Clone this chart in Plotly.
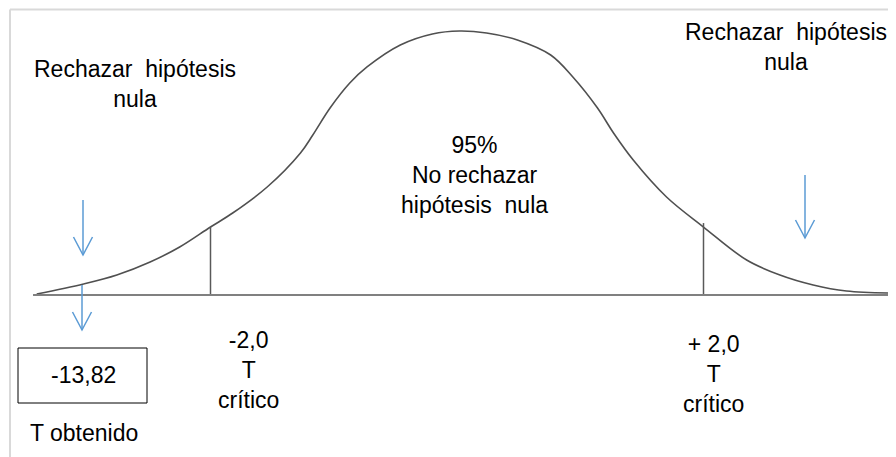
import plotly.graph_objects as go

# ---- data (t units, relative density) ----
curve_t = [-3.41, -3.03, -2.76, -2.49, -2.25, -2.00, -1.82, -1.54, -1.27, -1.17, -1.03, -0.87, -0.73, -0.46, -0.20,
           0.02, 0.24, 0.49, 0.76, 0.94, 1.14, 1.27, 1.43, 1.70, 2.00, 2.35, 2.62, 2.89, 3.16, 3.54]
curve_d = [0.0015, 0.0167, 0.0303, 0.0500, 0.0727, 0.1030, 0.1242, 0.1636, 0.2152, 0.2424, 0.2833, 0.3212, 0.3455, 0.3788, 0.3955,
           0.4000, 0.3970, 0.3864, 0.3636, 0.3303, 0.2833, 0.2455, 0.2045, 0.1485, 0.1030, 0.0530, 0.0303, 0.0152, 0.0061, 0.0030]

crit_t = [-2.0, 2.0]
crit_top = [0.103, 0.109]
crit_labels = ["-2,0<br>T<br>crítico", "+ 2,0<br>T<br>crítico"]

t_obtenido = "-13,82"

W, H = 896, 457
OFF = 8                      # page body margin of the browser
FW, FH = W - OFF, H - OFF    # figure size so the figure ends at the window edge
FONT = "Liberation Sans, Arial, sans-serif"

fig = go.Figure()

# normal curve
fig.add_trace(go.Scatter(x=curve_t, y=curve_d, mode="lines",
                         line=dict(color="#505050", width=1.6, shape="spline", smoothing=1.0),
                         hoverinfo="skip", showlegend=False))

# critical value lines
cx, cy = [], []
for t, top in zip(crit_t, crit_top):
    cx += [t, t, None]
    cy += [0, top, None]
fig.add_trace(go.Scatter(x=cx, y=cy, mode="lines",
                         line=dict(color="#595959", width=1.5),
                         hoverinfo="skip", showlegend=False))

def px(x):
    return (x - OFF) / FW

def py(y):
    return 1 - (y - OFF) / FH

shapes = []
# baseline
shapes.append(dict(type="line", xref="x", yref="y", x0=-3.44, x1=3.54, y0=0, y1=0,
                   line=dict(color="#808080", width=2)))
# frame lines (top and left)
shapes.append(dict(type="line", xref="paper", yref="paper", x0=px(10), x1=1, y0=py(9.5), y1=py(9.5),
                   line=dict(color="#d9d9d9", width=2)))
shapes.append(dict(type="line", xref="paper", yref="paper", x0=px(10), x1=px(10), y0=py(9.5), y1=0,
                   line=dict(color="#d9d9d9", width=2)))
# box for obtained T
shapes.append(dict(type="rect", xref="paper", yref="paper", x0=px(18), x1=px(147), y0=py(348), y1=py(403),
                   line=dict(color="#000000", width=1), fillcolor="rgba(0,0,0,0)"))

def arrow(x, y0, y1, hw=9.5, hh=18):
    col = "#5b9bd5"
    shapes.append(dict(type="line", xref="paper", yref="paper", x0=px(x), x1=px(x), y0=py(y0), y1=py(y1),
                       line=dict(color=col, width=1.5)))
    path = f"M {px(x-hw)},{py(y1-hh)} L {px(x)},{py(y1)} L {px(x+hw)},{py(y1-hh)}"
    shapes.append(dict(type="path", xref="paper", yref="paper", path=path,
                       line=dict(color=col, width=1.5)))

arrow(83, 200, 255)
arrow(82, 285, 330)
arrow(805, 175, 238)

ann = []
def text(x, y, s):
    ann.append(dict(x=px(x), y=py(y), xref="paper", yref="paper", text=s, showarrow=False,
                    xanchor="center", yanchor="middle", align="center",
                    font=dict(family=FONT, size=23, color="#000000")))

text(135, 84, "Rechazar\u00a0 hipótesis<br>nula")
text(786, 47, "Rechazar\u00a0 hipótesis<br>nula")
text(474, 175, "95%<br>No rechazar<br>hipótesis\u00a0 nula")
text(248, 370, crit_labels[0])
text(713, 374, crit_labels[1])
text(83, 375, t_obtenido)
text(84, 433, "T obtenido")

# axis ranges so that data units line up with the window pixels
T_PER_PX = 1 / 123.25
D_PER_PX = 0.4 / 264
x_lo = (OFF - 457) * T_PER_PX
x_hi = (W - 457) * T_PER_PX
y_hi = (295 - OFF) * D_PER_PX
y_lo = (295 - H) * D_PER_PX

fig.update_layout(
    width=FW, height=FH,
    margin=dict(l=0, r=0, t=0, b=0),
    paper_bgcolor="white", plot_bgcolor="white",
    xaxis=dict(range=[x_lo, x_hi], visible=False, fixedrange=True),
    yaxis=dict(range=[y_lo, y_hi], visible=False, fixedrange=True),
    shapes=shapes, annotations=ann, showlegend=False,
)

fig.write_html("out.html")
